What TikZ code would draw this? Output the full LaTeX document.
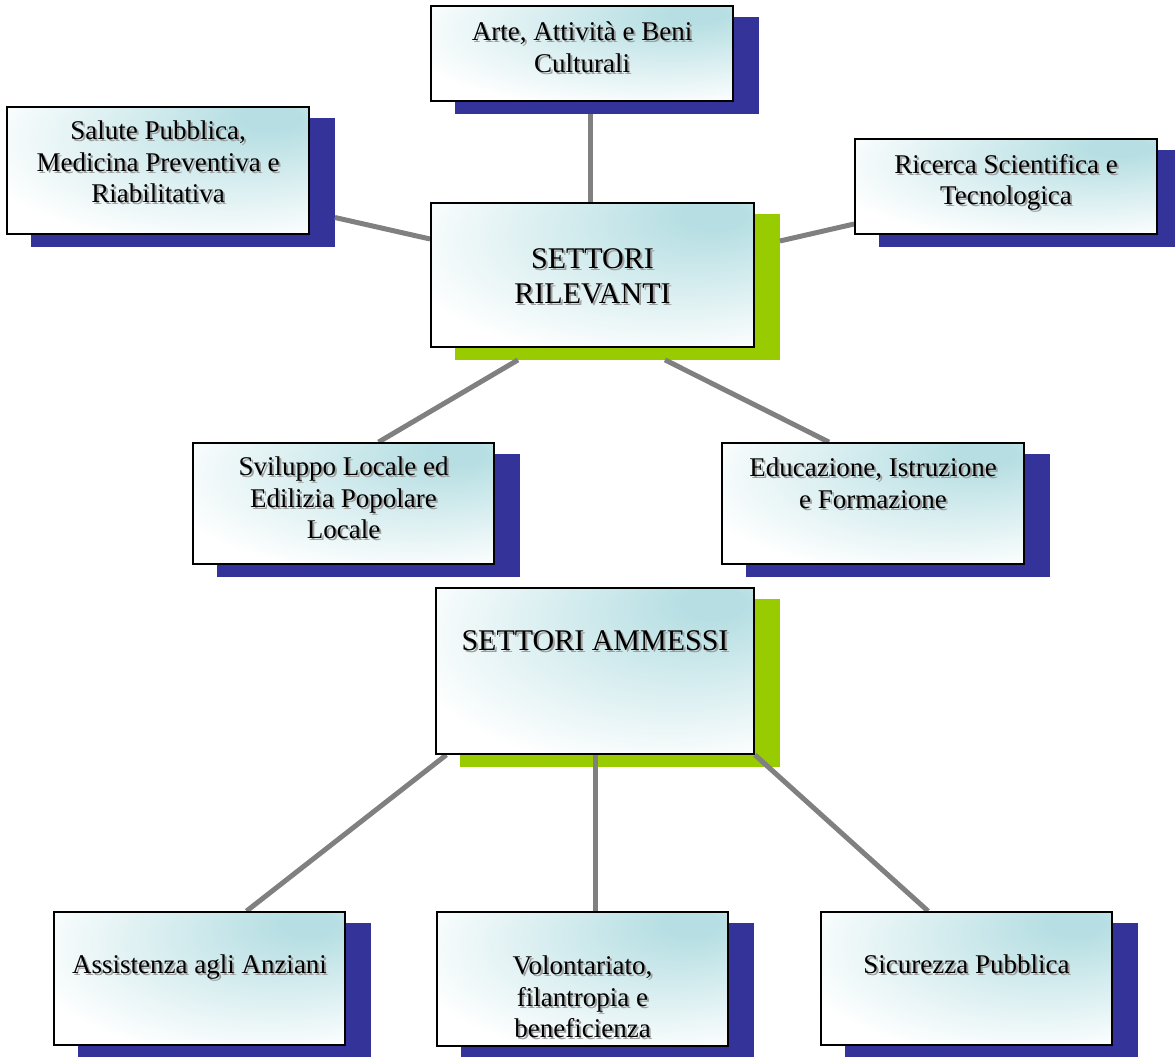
\documentclass[tikz,border=0pt]{standalone}
\usepackage{fontspec}
\setmainfont{Liberation Serif}
\usetikzlibrary{calc}
\definecolor{tealc}{RGB}{183,223,227}
\definecolor{shblue}{RGB}{51,51,153}
\definecolor{shgreen}{RGB}{153,204,0}
\definecolor{conn}{RGB}{128,128,128}
\pgfdeclareradialshading{cornerglow}{\pgfpoint{20bp}{22bp}}{color(0bp)=(tealc); color(5bp)=(tealc); color(40bp)=(white); color(75bp)=(white)}
\pgfdeclarelayer{shadowlayer}
\pgfdeclarelayer{connlayer}
\pgfsetlayers{shadowlayer,connlayer,main}
\tikzset{
  card/.style={draw=black, line width=1.8pt, shading=cornerglow, inner sep=0pt},
  txt/.style={font=\fontsize{27}{31.5}\selectfont, align=center, inner sep=0pt, anchor=north},
  bigtxt/.style={font=\fontsize{30}{35}\selectfont, align=center, inner sep=0pt, anchor=north},
  shtxt/.style={text=black!38, shift={(2,2)}},
  connector/.style={draw=conn, line width=5pt}
}
\newcommand{\cardtext}[4]{% name, style, position, text
  \node[#2, shtxt] (#1-sh) at (#3) {#4};
  \node[#2] (#1-t) at (#3) {#4};
}
\begin{document}
\begin{tikzpicture}[x=1pt,y=-1pt]
\useasboundingbox (0,0) rectangle (1175,1057);
% boxes
\node[card, minimum width=302pt, minimum height=95pt] (arte) at (582,53.5) {};
\node[card, minimum width=302pt, minimum height=127pt] (salute) at (158,170.5) {};
\node[card, minimum width=302pt, minimum height=95pt] (ricerca) at (1006,186.5) {};
\node[card, minimum width=323pt, minimum height=144pt] (rel) at (592.5,275) {};
\node[card, minimum width=301pt, minimum height=121pt] (svil) at (343.5,503.5) {};
\node[card, minimum width=302pt, minimum height=121pt] (educ) at (873,503.5) {};
\node[card, minimum width=318pt, minimum height=166pt] (amm) at (595,671) {};
\node[card, minimum width=291pt, minimum height=133pt] (assist) at (199.5,978.5) {};
\node[card, minimum width=291pt, minimum height=134pt] (vol) at (582.5,979) {};
\node[card, minimum width=291pt, minimum height=133pt] (sicur) at (966.5,978.5) {};
% texts
\cardtext{arte}{txt}{582,22}{Arte, Attività e Beni\\Culturali}
\cardtext{salute}{txt}{158,121}{Salute Pubblica,\\Medicina Preventiva e\\Riabilitativa}
\cardtext{ricerca}{txt}{1006,154}{Ricerca Scientifica e\\Tecnologica}
\cardtext{rel}{bigtxt}{592.5,248}{SETTORI\\RILEVANTI}
\cardtext{svil}{txt}{343.5,457}{Sviluppo Locale ed\\Edilizia Popolare\\Locale}
\cardtext{educ}{txt}{873,458}{Educazione, Istruzione\\e Formazione}
\cardtext{amm}{bigtxt}{595,630}{SETTORI AMMESSI}
\cardtext{assist}{txt}{199.5,955}{Assistenza agli Anziani}
\cardtext{vol}{txt}{582.5,956}{Volontariato,\\filantropia e\\beneficienza}
\cardtext{sicur}{txt}{966.5,955}{Sicurezza Pubblica}
% shadows
\begin{pgfonlayer}{shadowlayer}
\foreach \n/\c in {arte/shblue, salute/shblue, ricerca/shblue, rel/shgreen, svil/shblue, educ/shblue, amm/shgreen, assist/shblue, vol/shblue, sicur/shblue}
  \fill[\c] ([shift={(25,12)}]\n.north west) rectangle ([shift={(25,12)}]\n.south east);
\end{pgfonlayer}
% connectors
\begin{pgfonlayer}{connlayer}
\draw[connector] ([shift={(8,12)}]arte.south) -- ([xshift=8pt]arte.south |- rel.north);
\draw[connector] ([shift={(25,47)}]salute.east) -- ([yshift=36pt]rel.west);
\draw[connector] ([yshift=-37.5pt]ricerca.west) -- ([shift={(25,-34)}]rel.east);
\draw[connector] ([shift={(-74.5,12)}]rel.south) -- ([xshift=35pt]svil.north);
\draw[connector] ([shift={(72.5,12)}]rel.south) -- ([xshift=-44pt]educ.north);
\draw[connector] (amm.south) -- (amm.south |- vol.north);
\draw[connector] ([xshift=-148.7pt]amm.south) -- ([xshift=47pt]assist.north);
\draw[connector] (amm.south east) -- ([xshift=-38.4pt]sicur.north);
\end{pgfonlayer}
\end{tikzpicture}
\end{document}
